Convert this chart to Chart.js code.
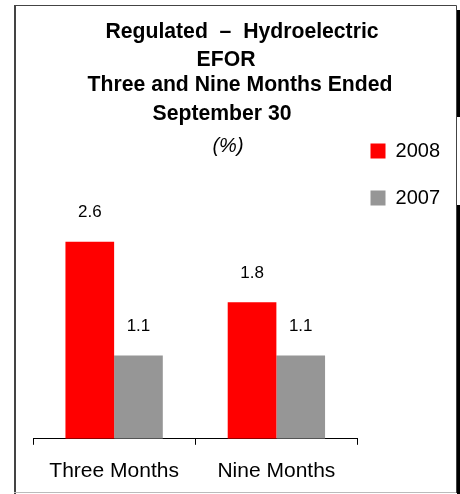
<!DOCTYPE html>
<html>
<head>
<meta charset="utf-8">
<title>Regulated - Hydroelectric EFOR</title>
<script src="https://cdn.jsdelivr.net/npm/chart.js@4"></script>
<style>
    html, body { margin: 0; padding: 0; background: #fff; }
    #chart { display: block; }
</style>
</head>
<body>
<canvas id="chart" width="460" height="494"></canvas>
<script>
const categories = ["Three Months", "Nine Months"];
const series_names = ["2008", "2007"];
const values_2008 = [2.6, 1.8];
const values_2007 = [1.1, 1.1];
const title_lines = [
    "Regulated  \u2013  Hydroelectric",
    "EFOR",
    "Three and Nine Months Ended",
    "September 30",
];
const unit_label = "(%)";

// title block, drawn on top of the canvas
const titlePlugin = {
    id: "titleBlock",
    afterDraw(chart) {
        const ctx = chart.ctx;
        // line centre (x) and middle (y) of each title line
        const pos = [[242, 32], [226, 60], [240, 85], [222, 114]];
        ctx.save();
        ctx.fillStyle = "#000";
        ctx.textAlign = "center";
        ctx.textBaseline = "middle";
        ctx.font = "bold 21.2px 'Liberation Sans', Arial, sans-serif";
        title_lines.forEach((line, i) => {
            ctx.fillText(line, pos[i][0], pos[i][1]);
        });
        ctx.font = "italic 20px 'Liberation Sans', Arial, sans-serif";
        ctx.fillText(unit_label, 228, 146);
        ctx.restore();
    },
};

// frame round the chart
const framePlugin = {
    id: "frame",
    beforeDraw(chart) {
        const ctx = chart.ctx;
        ctx.save();
        ctx.fillStyle = "#fff";
        ctx.fillRect(0, 0, chart.width, chart.height);
        ctx.strokeStyle = "#444";
        ctx.lineWidth = 1;
        ctx.beginPath();
        ctx.moveTo(14, 5.5);
        ctx.lineTo(456.5, 5.5);
        ctx.lineTo(456.5, 493);
        ctx.stroke();
        ctx.lineWidth = 2;
        ctx.beginPath();
        ctx.moveTo(15, 5);
        ctx.lineTo(15, 494);
        ctx.stroke();
        ctx.strokeStyle = "#bbb";
        ctx.lineWidth = 1;
        ctx.beginPath();
        ctx.moveTo(14, 492.5);
        ctx.lineTo(456, 492.5);
        ctx.stroke();
        ctx.fillStyle = "#000";
        ctx.fillRect(457, 10, 3, 107);
        ctx.fillRect(457, 205, 3, 289);
        ctx.restore();
    },
};

// value labels above bars
const valueLabelPlugin = {
    id: "valueLabels",
    afterDatasetsDraw(chart) {
        const ctx = chart.ctx;
        ctx.save();
        ctx.fillStyle = "#000";
        ctx.textAlign = "center";
        ctx.textBaseline = "middle";
        ctx.font = "17px 'Liberation Sans', Arial, sans-serif";
        chart.data.datasets.forEach((ds, di) => {
            chart.getDatasetMeta(di).data.forEach((bar, i) => {
                ctx.fillText(ds.data[i].toFixed(1), bar.x, bar.y - 29);
            });
        });
        ctx.restore();
    },
};

document.addEventListener("DOMContentLoaded", () => {
    const ctx = document.querySelector("#chart");

    new Chart(ctx, {
        type: "bar",
        data: {
            labels: categories,
            datasets: [
                {
                    label: series_names[0],
                    data: values_2008,
                    backgroundColor: "#ff0000",
                },
                {
                    label: series_names[1],
                    data: values_2007,
                    backgroundColor: "#969696",
                },
            ],
        },
        options: {
            responsive: false,
            animation: false,
            devicePixelRatio: 1,
            layout: {
                padding: { top: 128, left: 33, right: 10, bottom: -4 },
            },
            datasets: {
                bar: {
                    categoryPercentage: 0.6,
                    barPercentage: 1.0,
                },
            },
            scales: {
                x: {
                    grid: {
                        display: true,
                        drawOnChartArea: false,
                        drawTicks: true,
                        tickLength: 6,
                        color: "#000",
                        offset: true,
                    },
                    border: { color: "#000", width: 1 },
                    ticks: {
                        color: "#000",
                        padding: 14,
                        font: { size: 21, family: "'Liberation Sans', Arial, sans-serif" },
                    },
                },
                y: {
                    display: false,
                    min: 0,
                    max: 4.1,
                },
            },
            plugins: {
                title: { display: false },
                tooltip: { enabled: false },
                legend: {
                    position: "right",
                    align: "start",
                    labels: {
                        boxWidth: 15,
                        boxHeight: 15,
                        padding: 13,
                        color: "#000",
                        font: { size: 20, lineHeight: 34 / 20, family: "'Liberation Sans', Arial, sans-serif" },
                        generateLabels: (chart) =>
                            Chart.defaults.plugins.legend.labels.generateLabels(chart).map((item) => ({
                                ...item,
                                text: [item.text],
                            })),
                    },
                },
            },
        },
        plugins: [framePlugin, valueLabelPlugin, titlePlugin],
    });
});
</script>
</body>
</html>
